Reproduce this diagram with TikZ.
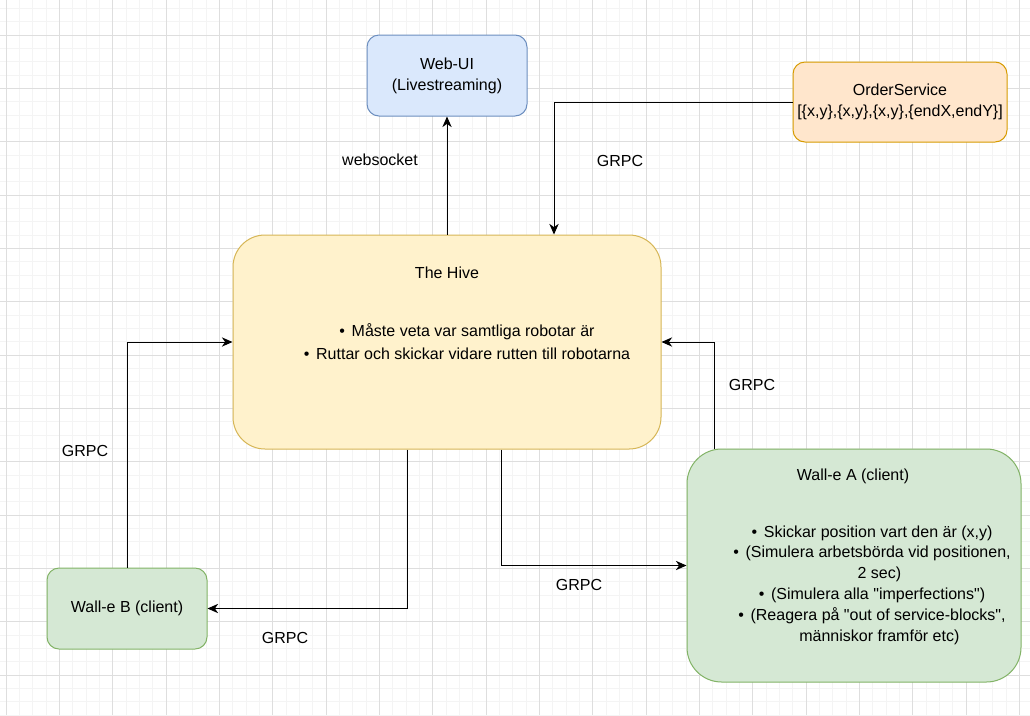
\documentclass[tikz,border=0pt]{standalone}
\usepackage{fontspec}
\setmainfont{Liberation Sans}[Ligatures=TeXOff]
\usetikzlibrary{arrows.meta}

\definecolor{uiFill}{HTML}{DAE8FC}
\definecolor{uiLine}{HTML}{6C8EBF}
\definecolor{hiveFill}{HTML}{FFF2CC}
\definecolor{hiveLine}{HTML}{D6B656}
\definecolor{orderFill}{HTML}{FFE6CC}
\definecolor{orderLine}{HTML}{D79B00}
\definecolor{walleFill}{HTML}{D5E8D4}
\definecolor{walleLine}{HTML}{82B366}
\definecolor{minorGrid}{HTML}{F4F4F4}
\definecolor{majorGrid}{HTML}{DEDEDE}

\begin{document}
\begin{tikzpicture}[x=0.75pt,y=-0.75pt,font=\fontsize{12}{15.6}\selectfont,
    box/.style={draw,line width=0.75pt,inner sep=0pt,align=center},
    link/.style={-{Stealth[length=8pt,width=7pt,inset=2.5pt]},line width=0.75pt},
    minorline/.style={draw=minorGrid,line width=0.75pt},
    majorline/.style={draw=majorGrid,line width=0.75pt}]

    \useasboundingbox (0,0) rectangle (1030,715);
    \fill[white] (0,0) rectangle (1030,715);
    % background grid
    \foreach \i in {0,...,77} \draw[minorline] ({6+13.3333*\i},0) -- ++(0,715);
    \foreach \i in {0,...,53} \draw[minorline] (0,{8.3333+13.3333*\i}) -- ++(1030,0);
    \foreach \i in {0,...,19} \draw[majorline] ({6+53.3333*\i},0) -- ++(0,715);
    \foreach \i in {0,...,12} \draw[majorline] (0,{35+53.3333*\i}) -- ++(1030,0);

    \node[box,fill=uiFill,draw=uiLine,rounded corners=9pt,minimum width=120pt,minimum height=60.75pt] (webui) at (447,75.5) {Web-UI\\(Livestreaming)};
    \node[box,fill=orderFill,draw=orderLine,rounded corners=9pt,minimum width=160.5pt,minimum height=60pt] (order) at (900,102) {OrderService\\{[}\{x,y\},\{x,y\},\{x,y\},\{endX,endY\}{]}};
    \node[box,fill=hiveFill,draw=hiveLine,rounded corners=24pt,minimum width=321pt,minimum height=160.5pt] (hive) at (447,342) {};
    \node[box,fill=walleFill,draw=walleLine,rounded corners=26pt,minimum width=250.5pt,minimum height=174.75pt] (walleA) at (854,565.5) {};
    \node[box,fill=walleFill,draw=walleLine,rounded corners=9pt,minimum width=120pt,minimum height=60.75pt] (walleB) at (127,608.5) {Wall-e B (client)};

    % texts inside the big boxes
    \node (hiveTitle) at (447,273) {The Hive};
    \node[align=center,font=\fontsize{12}{17.25}\selectfont] (hiveTasks) at (467,341.5) {\textbullet\hspace{5pt}Måste veta var samtliga robotar är\\\textbullet\hspace{5pt}Ruttar och skickar vidare rutten till robotarna};
    \node (walleATitle) at (853,476) {Wall-e A (client)};
    \node[align=center] (walleATasks) at (872,585) {\textbullet\hspace{5pt}Skickar position vart den är (x,y)\\
        \textbullet\hspace{5pt}(Simulera arbetsbörda vid positionen,\\
        \hspace*{11pt}2 sec)\\
        \textbullet\hspace{5pt}(Simulera alla "imperfections")\\
        \textbullet\hspace{5pt}(Reagera på "out of service-blocks",\\
        \hspace*{11pt}människor framför etc)};

    \draw[link] (hive.north) -- (webui.south);
    \draw[link] (order.west) -| ([xshift=80.25pt]hive.north);
    \draw[link] (walleB.north) |- (hive.west);
    \draw[link] ([xshift=-30pt]hive.south) |- (walleB.east);
    \draw[link] ([xshift=40.5pt]hive.south) |- (walleA.west);
    \draw[link] ([xshift=-105pt]walleA.north) |- (hive.east);

    % connector labels
    \node (wsLabel) at (380,160) {websocket};
    \node (orderLabel) at (620,161) {GRPC};
    \node (bUpLabel) at (85,451) {GRPC};
    \node (bDownLabel) at (285,638) {GRPC};
    \node (aDownLabel) at (579,585) {GRPC};
    \node (aUpLabel) at (752,385) {GRPC};
\end{tikzpicture}
\end{document}
